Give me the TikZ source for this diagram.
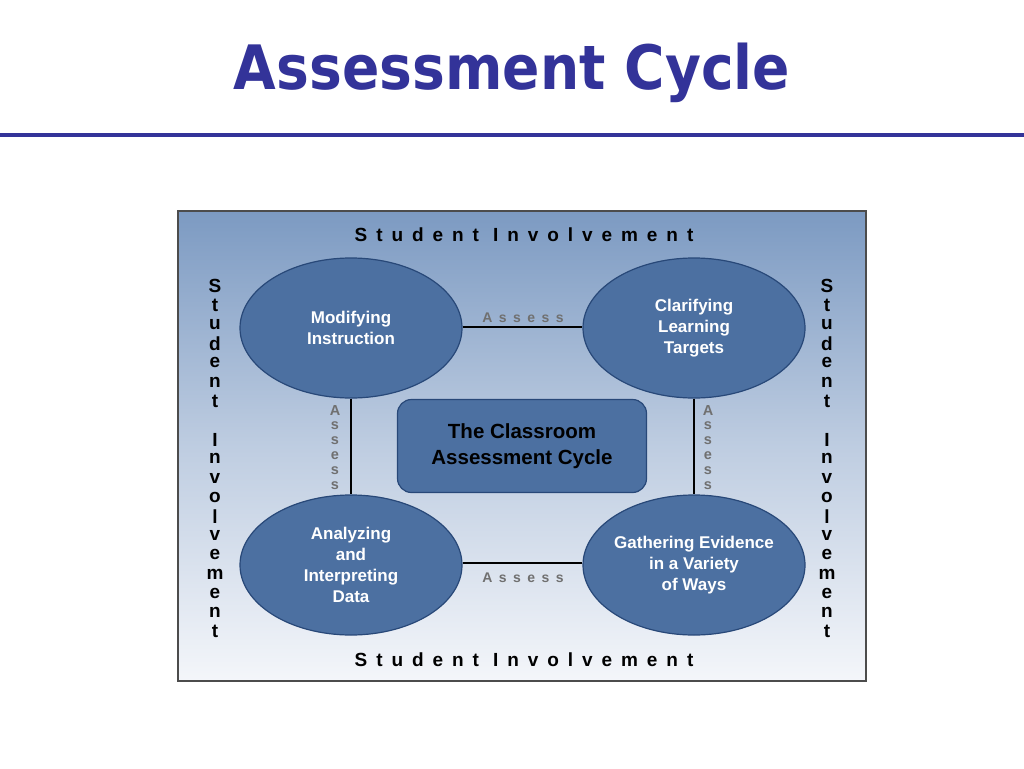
\documentclass[tikz,border=0pt]{standalone}
\usepackage{fontspec}
\setmainfont{Liberation Sans}
\newfontfamily\titlefont{DejaVu Sans Condensed}
\newfontfamily\spacedfont[LetterSpace=47]{Liberation Sans}
\newfontfamily\assessfont[LetterSpace=46]{Liberation Sans}
\usetikzlibrary{shapes.geometric}
\definecolor{titleblue}{RGB}{51,51,153}
\definecolor{ellfill}{RGB}{76,112,161}
\definecolor{ellline}{RGB}{40,72,120}
\definecolor{bgtop}{RGB}{124,154,194}
\definecolor{bgbot}{RGB}{244,246,250}
\definecolor{assessgray}{RGB}{112,112,112}
\tikzset{
  phase/.style={ellipse, draw=ellline, line width=1.2pt, fill=ellfill,
    minimum width=222pt, minimum height=140pt, inner xsep=-20pt, inner ysep=0pt,
    text=white, font=\bfseries\fontsize{17}{21}\selectfont, align=center},
  centerbox/.style={rectangle, rounded corners=14pt, draw=ellline, line width=1.2pt, fill=ellfill,
    minimum width=249pt, minimum height=93pt, inner sep=0pt,
    text=black, font=\bfseries\fontsize{20.5}{26}\selectfont, align=center},
  link/.style={draw=black, line width=2.6pt},
  involve/.style={font=\spacedfont\bfseries\fontsize{19}{19}\selectfont, text=black, inner sep=0pt},
  vletter/.style={font=\bfseries\fontsize{19}{19}\selectfont, text=black, inner sep=0pt},
  assesslbl/.style={font=\assessfont\bfseries\fontsize{14}{14}\selectfont, text=assessgray, inner sep=0pt},
  vassess/.style={font=\bfseries\fontsize{14.5}{14.5}\selectfont, text=assessgray, inner sep=0pt}
}
\begin{document}
\begin{tikzpicture}[x=1pt,y=-1pt]
\useasboundingbox (0,0) rectangle (1024,768);
\fill[white] (0,0) rectangle (1024,768);
% title
\node[text=titleblue, inner sep=0pt] (title) at (512,73)
  {\resizebox{556pt}{!}{\titlefont\bfseries\fontsize{60}{60}\selectfont Assessment Cycle}};
\draw[titleblue, line width=3.5pt] (0,135) -- (1024,135);
% frame
\shade[top color=bgtop, bottom color=bgbot, middle color=bgtop!45!bgbot] (178,211) rectangle (866,681);
\draw[black!70, line width=1.6pt] (178,211) rectangle (866,681);
% phases
\node[phase] (mod) at (351,328) {Modifying\\Instruction};
\node[phase] (cla) at (694,328) {Clarifying\\Learning\\Targets};
\node[phase] (ana) at (351,565) {Analyzing\\and\\Interpreting\\Data};
\node[phase] (gat) at (694,565) {Gathering Evidence\\in a Variety\\of Ways};
\node[centerbox] (cyc) at (522,446) {The Classroom\\Assessment Cycle};
% links
\draw[link] (mod.east |- 0,327) -- (cla.west |- 0,327);
\draw[link] (ana.east |- 0,563) -- (gat.west |- 0,563);
\draw[link] (mod.south) -- (ana.north);
\draw[link] (cla.south) -- (gat.north);
% assess labels
\node[assesslbl] (as1) at (523,318) {Assess};
\node[assesslbl] (as2) at (523,578) {Assess};
\foreach \l [count=\i] in {A,s,s,e,s,s}{
  \node[vassess] (al\i) at (335,{411+15*(\i-1)}) {\l};
  \node[vassess] (ar\i) at (708,{411+15*(\i-1)}) {\l};
}
% student involvement
\node[involve] (sitop) at (524,235) {Student Involvement};
\node[involve] (sibot) at (524,660) {Student Involvement};
\foreach \l [count=\i] in {S,t,u,d,e,n,t,{},I,n,v,o,l,v,e,m,e,n,t}{
  \node[vletter] (vl\i) at (215,{286+19.2*(\i-1)}) {\l};
  \node[vletter] (vr\i) at (827,{286+19.2*(\i-1)}) {\l};
}
\end{tikzpicture}
\end{document}
